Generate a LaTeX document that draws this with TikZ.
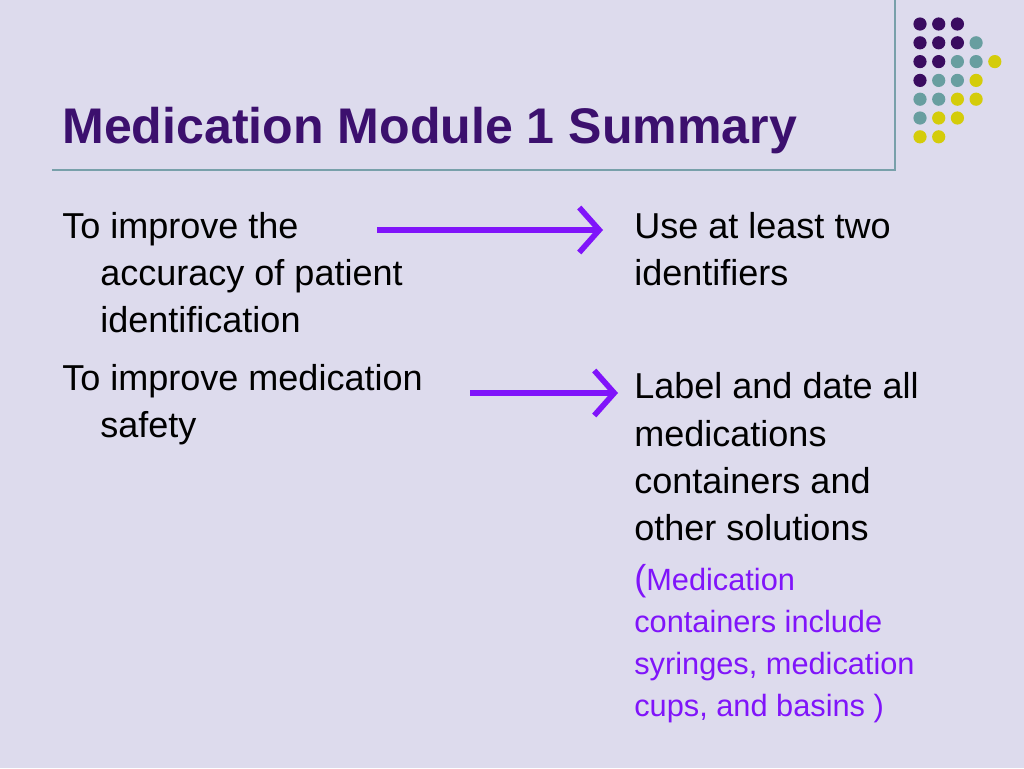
\documentclass[tikz,border=0pt]{standalone}
\usepackage{fontspec}
\setmainfont{Liberation Sans}
\usepackage{tikz}
\usetikzlibrary{positioning,arrows.meta,calc}
\definecolor{bgcol}{RGB}{221,219,237}
\definecolor{titlecol}{RGB}{60,16,110}
\definecolor{rulecol}{RGB}{120,160,170}
\definecolor{dotp}{RGB}{58,12,96}
\definecolor{dott}{RGB}{104,158,160}
\definecolor{doty}{RGB}{212,204,10}
\definecolor{arrowcol}{RGB}{128,20,250}
\newcommand{\chev}{-{Straight Barb[length=4mm,width=9mm,line width=3.2pt]}}
\tikzset{
  body/.style={anchor=base west,inner sep=0pt,font=\fontsize{20.5}{24}\selectfont},
  note/.style={anchor=base west,inner sep=0pt,text=arrowcol,font=\fontsize{17.5}{21}\selectfont},
  link/.style={arrowcol,line width=3.4pt,\chev},
}
\begin{document}
\begin{tikzpicture}[x=0.02cm,y=-0.02cm]
\fill[bgcol] (0,0) rectangle (1024,768);
\useasboundingbox (0,0) rectangle (1024,768);
% header
\node[anchor=base west,inner sep=0pt,text=titlecol,font=\fontsize{28.5}{34}\selectfont\bfseries] (title) at (62,143) {Medication Module 1 Summary};
\draw[rulecol,line width=0.8pt] (52,170) -- (895,170) -- (895,0);
% dots
\foreach \r/\cols in {1/{dotp,dotp,dotp},2/{dotp,dotp,dotp,dott},3/{dotp,dotp,dott,dott,doty},4/{dotp,dott,dott,doty},5/{dott,dott,doty,doty},6/{dott,doty,doty},7/{doty,doty}}{
  \foreach \c [count=\i] in \cols{
    \fill[\c] ({920+18.7*(\i-1)},{24+18.8*(\r-1)}) circle (6.6);
  }
}
% left column
\node[body] (goal1) at (62,238) {To improve the};
\node[body] (goal1b) at (100,285) {accuracy of patient};
\node[body] at (100,332) {identification};
\node[body] (goal2) at (62,390) {To improve medication};
\node[body] at (100,437) {safety};
% right column
\node[body] (act1) at (634,238) {Use at least two};
\node[body] at (634,285) {identifiers};
\node[body] (act2) at (634,398) {Label and date all};
\node[body] at (634,446) {medications};
\node[body] at (634,493) {containers and};
\node[body] at (634,540) {other solutions};
\node[note] at (634,590) {{\fontsize{20.5}{24}\selectfont(}Medication};
\node[note] at (634,632) {containers include};
\node[note] at (634,674) {syringes, medication};
\node[note] at (634,716) {cups, and basins )};
% arrows
\coordinate (a1) at (377,230);
\coordinate (b1) at (603,230);
\coordinate (a2) at (470,393);
\coordinate (b2) at (618,393);
\draw[link] (a1) -- (b1);
\draw[link] (a2) -- (b2);
\end{tikzpicture}
\end{document}
